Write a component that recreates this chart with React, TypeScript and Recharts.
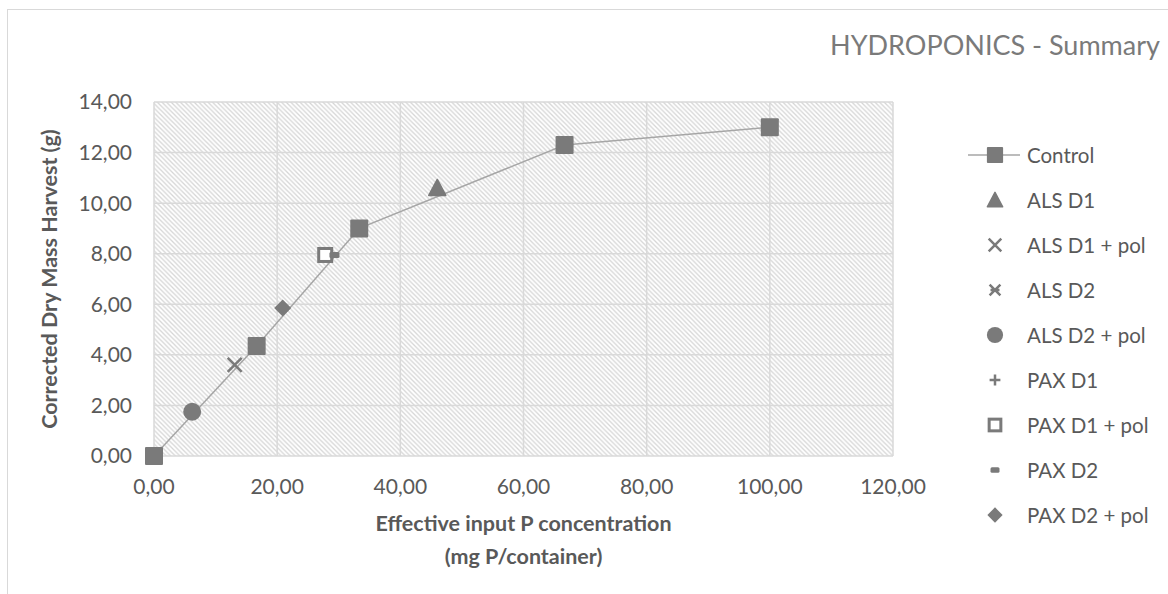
import { ScatterChart, Scatter, XAxis, YAxis, CartesianGrid, Legend, Label } from "recharts";

const controlX = [0, 16.67, 33.33, 66.67, 100];
const controlY = [0, 4.35, 9.0, 12.3, 13.0];
const alsD1X = [46.0];
const alsD1Y = [10.6];
const alsD1PolX = [13.1];
const alsD1PolY = [3.6];
const alsD2X: number[] = [];
const alsD2Y: number[] = [];
const alsD2PolX = [6.2];
const alsD2PolY = [1.75];
const paxD1X: number[] = [];
const paxD1Y: number[] = [];
const paxD1PolX = [27.8];
const paxD1PolY = [7.95];
const paxD2X = [29.3];
const paxD2Y = [7.95];
const paxD2PolX = [20.9];
const paxD2PolY = [5.85];

const xTicks = [0, 20, 40, 60, 80, 100, 120];
const yTicks = [0, 2, 4, 6, 8, 10, 12, 14];

const FONT = "Lato, 'Open Sans', sans-serif";
const TEXT = "#595959";
const MARK = "#7a7a7a";
const GRID = "#d9d9d9";

const pts = (xs: number[], ys: number[]) => xs.map((x, i) => ({ x, y: ys[i] }));

type Kind = "square" | "triangle" | "cross" | "star" | "circle" | "plus" | "open" | "dash" | "diamond";

const series: { name: string; kind: Kind; data: { x: number; y: number }[] }[] = [
  { name: "Control", kind: "square", data: pts(controlX, controlY) },
  { name: "ALS D1", kind: "triangle", data: pts(alsD1X, alsD1Y) },
  { name: "ALS D1 + pol", kind: "cross", data: pts(alsD1PolX, alsD1PolY) },
  { name: "ALS D2", kind: "star", data: pts(alsD2X, alsD2Y) },
  { name: "ALS D2 + pol", kind: "circle", data: pts(alsD2PolX, alsD2PolY) },
  { name: "PAX D1", kind: "plus", data: pts(paxD1X, paxD1Y) },
  { name: "PAX D1 + pol", kind: "open", data: pts(paxD1PolX, paxD1PolY) },
  { name: "PAX D2", kind: "dash", data: pts(paxD2X, paxD2Y) },
  { name: "PAX D2 + pol", kind: "diamond", data: pts(paxD2PolX, paxD2PolY) },
];

function Marker({ kind, cx, cy, s = 1 }: { kind: Kind; cx: number; cy: number; s?: number }) {
  switch (kind) {
    case "square":
      return <rect x={cx - 9 * s} y={cy - 9 * s} width={18 * s} height={18 * s} rx={1} fill={MARK} />;
    case "triangle":
      return (
        <path
          d={`M${cx},${cy - 8.5 * s} L${cx + 8.5 * s},${cy + 7.5 * s} L${cx - 8.5 * s},${cy + 7.5 * s} Z`}
          fill={MARK}
          stroke={MARK}
          strokeWidth={1.5}
          strokeLinejoin="round"
        />
      );
    case "cross":
      return (
        <path
          d={`M${cx - 7 * s},${cy - 7 * s} L${cx + 7 * s},${cy + 7 * s} M${cx + 7 * s},${cy - 7 * s} L${cx - 7 * s},${cy + 7 * s}`}
          stroke={MARK}
          strokeWidth={2.5}
        />
      );
    case "star":
      return (
        <path
          d={`M${cx - 6 * s},${cy - 6 * s} L${cx + 6 * s},${cy + 6 * s} M${cx + 6 * s},${cy - 6 * s} L${cx - 6 * s},${cy + 6 * s} M${cx - 5 * s},${cy} L${cx + 5 * s},${cy}`}
          stroke={MARK}
          strokeWidth={2.5}
        />
      );
    case "circle":
      return <circle cx={cx} cy={cy} r={9 * s} fill={MARK} />;
    case "plus":
      return (
        <path
          d={`M${cx - 6 * s},${cy} L${cx + 6 * s},${cy} M${cx},${cy - 6 * s} L${cx},${cy + 6 * s}`}
          stroke={MARK}
          strokeWidth={2.5}
        />
      );
    case "open":
      return <rect x={cx - 6.5 * s} y={cy - 6.5 * s} width={13 * s} height={13 * s} fill="#fff" stroke={MARK} strokeWidth={3} />;
    case "dash":
      return <rect x={cx - 5 * s} y={cy - 3 * s} width={10 * s} height={6 * s} rx={1.5} fill={MARK} />;
    case "diamond":
      return <path d={`M${cx},${cy - 8.5 * s} L${cx + 8.5 * s},${cy} L${cx},${cy + 8.5 * s} L${cx - 8.5 * s},${cy} Z`} fill={MARK} />;
  }
  return null;
}

const fmt = (v: number) => v.toFixed(2).replace(".", ",");

function LegendBox() {
  return (
    <div style={{ fontFamily: FONT, fontSize: 20.5, color: TEXT }}>
      {series.map((s) => (
        <div key={s.name} style={{ height: 45.1, display: "flex", alignItems: "center" }}>
          <svg width={70} height={24} style={{ flex: "none" }}>
            {s.kind === "square" && <line x1={13} x2={65} y1={12} y2={12} stroke="#a6a6a6" strokeWidth={1.5} />}
            <Marker kind={s.kind} cx={40} cy={12} s={0.9} />
          </svg>
          <span style={{ marginLeft: 2, whiteSpace: "nowrap" }}>{s.name}</span>
        </div>
      ))}
    </div>
  );
}

export default function App() {
  return (
    <div style={{ position: "absolute", left: 0, top: 0, width: 1168, height: 594, overflow: "hidden", background: "#fff" }}>
      <div
        style={{ position: "absolute", left: 7, top: 9, width: 1300, height: 700, border: `1.5px solid ${GRID}` }}
      />
      <div
        style={{
          position: "absolute",
          right: 8,
          top: 31,
          fontFamily: FONT,
          fontWeight: 400,
          fontSize: 27,
          lineHeight: "27px",
          color: "#7a7a7a",
          whiteSpace: "nowrap",
        }}
      >
        HYDROPONICS - Summary
      </div>
      <ScatterChart width={1168} height={594} margin={{ top: 102, right: 275, left: 0, bottom: 0 }} style={{ position: "absolute", left: 0, top: 0 }}>
        <defs>
          <pattern id="hatch" patternUnits="userSpaceOnUse" width={4.6} height={4.6}>
            <rect width={4.6} height={4.6} fill="#fff" />
            <path d="M-1,-1 L5.6,5.6 M-1,3.6 L1,5.6 M3.6,-1 L5.6,1" stroke="#d6d6d6" strokeWidth={1.3} />
          </pattern>
        </defs>
        <CartesianGrid stroke={GRID} strokeWidth={1.5} fill="url(#hatch)" fillOpacity={1} />
        <XAxis
          type="number"
          dataKey="x"
          domain={[0, 120]}
          ticks={xTicks}
          tickFormatter={fmt}
          axisLine={false}
          tickLine={false}
          tickSize={0}
          tickMargin={23}
          height={138}
          tick={{ fill: TEXT, fontSize: 21, fontFamily: FONT }}
        >
          <Label
            content={(props: any) => {
              const vb = props.viewBox;
              const cx = vb.x + vb.width / 2;
              return (
                <text x={cx} y={vb.y + 75} textAnchor="middle" fill={TEXT} fontFamily={FONT} fontSize={21.5} fontWeight={700}>
                  <tspan x={cx}>Effective input P concentration</tspan>
                  <tspan x={cx} dy={33}>(mg P/container)</tspan>
                </text>
              );
            }}
          />
        </XAxis>
        <YAxis
          type="number"
          dataKey="y"
          domain={[0, 14]}
          ticks={yTicks}
          tickFormatter={fmt}
          axisLine={false}
          tickLine={false}
          tickSize={0}
          tickMargin={22}
          width={154}
          tick={{ fill: TEXT, fontSize: 21, fontFamily: FONT }}
        >
          <Label
            content={(props: any) => {
              const vb = props.viewBox;
              const x = vb.x + 57;
              const y = vb.y + vb.height / 2;
              return (
                <text
                  x={x}
                  y={y}
                  transform={`rotate(-90, ${x}, ${y})`}
                  textAnchor="middle"
                  fill={TEXT}
                  fontFamily={FONT}
                  fontSize={21.5}
                  fontWeight={700}
                >
                  Corrected Dry Mass Harvest (g)
                </text>
              );
            }}
          />
        </YAxis>
        <Legend
          layout="horizontal"
          verticalAlign="middle"
          align="center"
          content={() => <LegendBox />}
          wrapperStyle={{ left: 955, top: 132, width: 213, height: 410 }}
        />
        {series.map((s) => (
          <Scatter
            key={s.name}
            name={s.name}
            data={s.data}
            isAnimationActive={false}
            line={s.kind === "square" ? { stroke: "#a6a6a6", strokeWidth: 1.5 } : false}
            shape={(p: any) => <Marker kind={s.kind} cx={p.cx} cy={p.cy} />}
          />
        ))}
      </ScatterChart>
    </div>
  );
}
